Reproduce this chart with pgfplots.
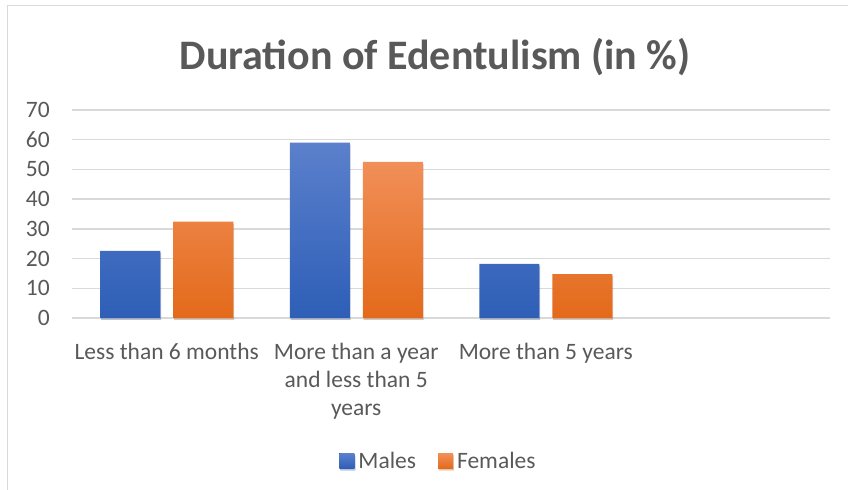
\documentclass[border=0pt]{standalone}
\usepackage{pgfplots}
\pgfplotsset{compat=1.18}
\usetikzlibrary{shadows}
\usepackage{fontspec}
\setmainfont{Carlito}
\definecolor{txt}{HTML}{595959}
\definecolor{gridgray}{HTML}{D9D9D9}
\definecolor{btop}{HTML}{5B80CC}
\definecolor{bbot}{HTML}{2E5EB7}
\definecolor{otop}{HTML}{F18F58}
\definecolor{obot}{HTML}{E36A1A}
\pgfplotstableread{
x males females
0 22.6 32.4
1 59.0 52.5
2 18.2 14.8
}\datatable
\begin{document}
\begin{tikzpicture}[x=1bp,y=1bp]
\useasboundingbox (0,0) rectangle (848,490);
\draw[gridgray, line width=1.5bp] (7.5,0) -- (7.5,484.5) -- (848,484.5);
\node[anchor=base, text=txt, font=\fontsize{42bp}{48bp}\selectfont\bfseries] at (435,420) {Duration of Edentulism (in \%)};
\begin{axis}[
  at={(72bp,172bp)}, anchor=south west,
  scale only axis, width=758bp, height=208bp,
  xmin=-0.5, xmax=3.5, ymin=0, ymax=70,
  ytick={0,10,...,70},
  xtick={0,1,2},
  xticklabels={Less than 6 months, {More than a year\\and less than 5\\years}, More than 5 years},
  axis line style={draw=none},
  ymajorgrids, xmajorgrids=false, grid style={gridgray, line width=1.5bp},
  major tick length=0pt,
  tick label style={text=txt, font=\fontsize{23.5bp}{28bp}\selectfont},
  xticklabel style={align=center, yshift=-22bp},
  yticklabel style={anchor=east, inner xsep=0pt, xshift=-22bp},
  /pgf/number format/assume math mode=true,
  ybar=13bp, bar width=60bp,
  legend columns=2,
  legend style={at={(0.4835,-0.6875)}, anchor=center, draw=none, fill=none,
    font=\fontsize{23.5bp}{28bp}\selectfont, text=txt,
    /tikz/every even column/.append style={column sep=20bp},
    /tikz/every odd column/.append style={column sep=2bp}},
  clip=false,
]
\addplot[draw=none, top color=btop, bottom color=bbot,
  drop shadow={shadow xshift=0.8bp, shadow yshift=-2bp, opacity=0.22, fill=black!60},
  legend image code/.code={\fill[top color=btop, bottom color=bbot] (0bp,-7.5bp) rectangle (15bp,7.5bp);}]
  table[x=x, y=males] {\datatable};
\addlegendentry{Males}
\addplot[draw=none, top color=otop, bottom color=obot,
  drop shadow={shadow xshift=0.8bp, shadow yshift=-2bp, opacity=0.22, fill=black!60},
  legend image code/.code={\fill[top color=otop, bottom color=obot] (0bp,-7.5bp) rectangle (15bp,7.5bp);}]
  table[x=x, y=females] {\datatable};
\addlegendentry{Females}
\end{axis}
\end{tikzpicture}
\end{document}
